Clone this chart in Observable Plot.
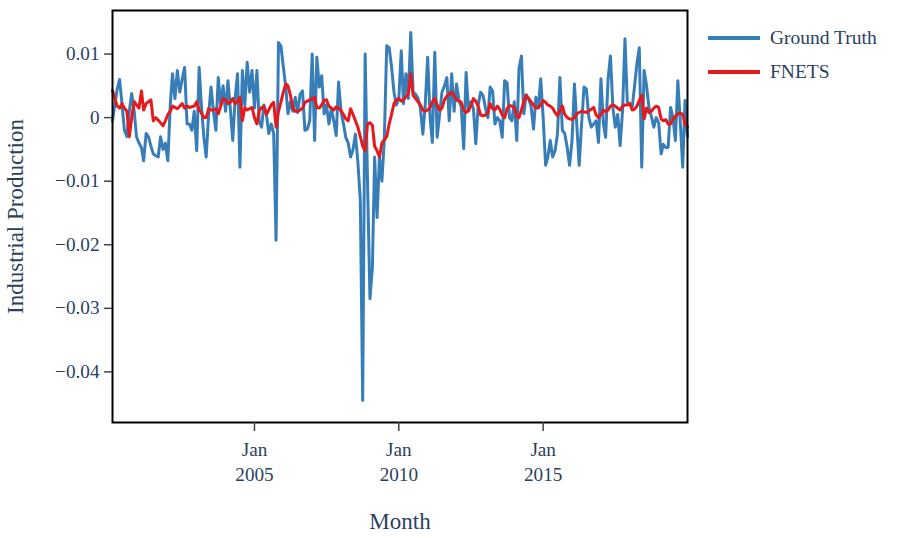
<!DOCTYPE html>
<html>
<head>
<meta charset="utf-8">
<script src="https://cdn.jsdelivr.net/npm/d3@7"></script>
<script src="https://cdn.jsdelivr.net/npm/@observablehq/plot@0.6"></script>
<style>
  html, body { margin: 0; padding: 0; background: #fff; }
  #wrap { position: relative; width: 897px; height: 538px; font-family: "Liberation Serif", "DejaVu Serif", serif; }
  .legend { position: absolute; left: 708px; color: #2a3f5f; font-size: 19.5px; display: flex; align-items: center; }
  .legend .sw { width: 52px; height: 3.5px; margin-right: 10px; }
</style>
</head>
<body>
<div id="wrap"></div>
<script>
// Monthly index: Feb 2000 .. Jan 2020 (240 months)
const startMonth = new Date(Date.UTC(2000, 1, 1));
const endMonth = new Date(Date.UTC(2020, 1, 1));
const months = d3.utcMonth.range(startMonth, endMonth);

const seriesNames = ["Ground Truth", "FNETS"];
const seriesColors = ["#377eb8", "#e41a1c"];

const groundTruth = [
  -0.0005, 0.002, 0.0045, 0.006, 0.002, -0.002, -0.003, 0.001, 0.0038, 0.001,
  -0.003, -0.004, -0.0047, -0.0068, -0.0025, -0.003, -0.0045, -0.0057, -0.006, -0.0062,
  -0.003, -0.005, -0.004, -0.0068, 0.002, 0.0069, 0.003, 0.0074, 0.004, 0.006,
  0.0079, -0.001, -0.001, -0.002, 0.001, -0.0052, 0.0079, 0.002, -0.003, -0.0062,
  0.0005, 0.0048, 0.001, -0.002, 0.0063, 0.002, 0.005, 0.001, 0.0058, 0.0015,
  -0.0036, 0.003, 0.0069, -0.0078, 0.0074, 0.002, 0.0087, 0.004, 0.0074, 0.0015,
  0.0074, -0.0005, -0.0015, 0.002, 0.0005, -0.0025, -0.001, -0.0025, -0.0193, 0.0118,
  0.0113, 0.008, 0.0048, 0.0006, 0.0025, 0.001, 0.0032, 0.0008, 0.0037, 0.0042,
  -0.002, -0.0018, -0.0005, 0.010, -0.0036, 0.0095, 0.0048, 0.0066, 0.0006, 0.002,
  -0.001, 0.0015, -0.0005, -0.0028, 0.0056, 0.001, -0.001, -0.0031, -0.004, -0.0062,
  -0.005, -0.0026, -0.007, -0.013, -0.0445, 0.010, -0.010, -0.0285, -0.0235, -0.0062,
  -0.0157, -0.0062, -0.010, -0.0036, 0.0113, 0.011, 0.008, 0.004, 0.002, 0.003,
  0.0105, 0.0022, 0.0069, 0.003, 0.0134, 0.004, 0.0037, 0.003, 0.0015, -0.0026,
  0.002, 0.0095, 0.0, -0.0039, 0.0103, -0.0031, 0.0005, 0.004, 0.005, 0.0063,
  -0.0005, 0.0069, 0.001, 0.0053, 0.0027, 0.0017, -0.0049, 0.0071, 0.001, 0.0025,
  0.0015, -0.0041, 0.002, 0.004, 0.0035, 0.0015, 0.0, 0.0048, 0.0042, -0.001,
  0.0, -0.0005, -0.0031, 0.0058, 0.0055, 0.0, -0.0005, 0.0025, -0.0036, 0.0077,
  0.0097, 0.0006, 0.0036, 0.003, 0.0018, -0.0018, 0.0032, 0.0015, 0.0061, 0.0,
  -0.0075, -0.0062, -0.0036, -0.0062, -0.0052, -0.0026, 0.0063, -0.002, -0.0025, -0.0047,
  -0.0075, -0.0036, 0.0053, -0.001, -0.0075, -0.001, 0.0048, 0.0045, 0.0, -0.0015,
  -0.001, -0.0005, -0.0039, 0.0061, -0.001, -0.0031, 0.006, 0.0097, 0.0016, -0.0015,
  0.0005, -0.0044, 0.001, 0.0124, 0.0024, 0.0022, 0.0017, 0.0048, 0.0085, 0.011,
  -0.0078, 0.0074, 0.005, 0.0016, 0.0002, -0.0015, 0.0, -0.0008, -0.0057, -0.0042,
  -0.0047, -0.0047, 0.0016, 0.0, -0.0036, 0.0058, -0.0005, -0.0078, 0.0027, -0.003
];

const fnets = [
  0.0043, 0.003, 0.0018, 0.0015, 0.0022, 0.0015, 0.001, -0.003, 0.0, 0.0025,
  0.002, 0.0015, 0.0042, 0.0012, 0.0022, 0.0025, 0.0028, -0.0005, 0.0, -0.0004,
  -0.0008, -0.0013, -0.0005, 0.0005, 0.001, 0.0018, 0.0016, 0.0014, 0.0018, 0.0022,
  0.0015, 0.0018, 0.0016, 0.0017, 0.0018, 0.0025, 0.0012, 0.0008, 0.0, 0.0,
  0.0014, 0.0012, 0.0012, 0.0014, 0.0006, 0.0018, 0.003, 0.0028, 0.0022, 0.0024,
  0.003, 0.0022, 0.0025, 0.0032, -0.0005, 0.0016, 0.0012, 0.0014, 0.0016, 0.0,
  -0.001, 0.001, 0.0016, 0.0017, 0.0005, 0.0012, 0.002, 0.0024, -0.0015, 0.001,
  0.0024, 0.004, 0.0053, 0.005, 0.0035, 0.0015, 0.001, 0.001, 0.0012, 0.0015,
  0.0024, 0.0026, 0.0028, 0.003, 0.0032, 0.0016, 0.0015, 0.002, 0.0027, 0.0028,
  0.0018, 0.0015, 0.0012, 0.0017, 0.0015, 0.0011, 0.0005, -0.0002, -0.0005, 0.0014,
  0.0005, -0.0005, -0.0015, -0.003, -0.0045, -0.0052, -0.001, -0.0008, -0.0012, -0.0045,
  -0.0052, -0.0062, -0.004, -0.0035, -0.003, -0.001, 0.0005, 0.0022, 0.0028, 0.003,
  0.0026, 0.0028, 0.0033, 0.0038, 0.0069, 0.0035, 0.003, 0.0025, 0.002, 0.0012,
  0.001, 0.0012, 0.0016, 0.0025, 0.003, 0.002, 0.0012, 0.0015, 0.0028, 0.0034,
  0.0037, 0.004, 0.0035, 0.0028, 0.0026, 0.0024, 0.0012, 0.0008, 0.0012, 0.0018,
  0.003, 0.0026, 0.0018, 0.0004, 0.0003, 0.0004, 0.0008, 0.0022, 0.0014, 0.0012,
  0.0018, 0.0013, 0.0004, 0.0, 0.0014, 0.0019, 0.0018, 0.0016, 0.0002, 0.0,
  0.0012, 0.0025, 0.0035, 0.003, 0.0025, 0.002, 0.0015, 0.0016, 0.002, 0.0027,
  0.0024, 0.002, 0.0018, 0.0015, 0.0008, 0.0003, 0.001, 0.0018, 0.0005, 0.0,
  -0.0002, -0.0003, 0.0, 0.0006, 0.0008, 0.001, 0.0009, 0.0008, 0.0011, 0.0013,
  0.0016, 0.0004, 0.0, 0.0005, 0.0012, 0.0009, 0.0012, 0.0018, 0.002, 0.0018,
  0.0015, 0.0012, 0.0018, 0.002, 0.002, 0.0022, 0.0012, 0.0013, 0.0018, 0.0027,
  0.0035, -0.0002, 0.0015, 0.0008, 0.001, 0.0015, 0.0018, 0.0016, -0.0002, -0.0005,
  -0.0003, -0.001, -0.001, -0.0002, 0.0002, 0.0006, 0.0007, 0.0005, -0.001, -0.0015
];

const yTicks = [-0.04, -0.03, -0.02, -0.01, 0, 0.01];
const xTickYears = [2005, 2010, 2015];
const xLabel = "Month";
const yLabel = "Industrial Production";

const rows = [];
months.forEach((m, i) => {
  rows.push({date: m, value: groundTruth[i], series: seriesNames[0]});
});
months.forEach((m, i) => {
  rows.push({date: m, value: fnets[i], series: seriesNames[1]});
});

const textColor = "#2a3f5f";
const font = "Liberation Serif, DejaVu Serif, serif";

const chart = Plot.plot({
  width: 897,
  height: 538,
  marginLeft: 112,
  marginRight: 210,
  marginTop: 10,
  marginBottom: 116,
  style: {fontFamily: font, background: "#fff", overflow: "visible"},
  x: {type: "utc", domain: [months[0], months[months.length - 1]]},
  y: {domain: [-0.04796, 0.01685]},
  color: {domain: seriesNames, range: seriesColors},
  marks: [
    Plot.line(rows, {
      x: "date", y: "value", z: "series", stroke: "series",
      strokeWidth: 3, strokeLinejoin: "round", strokeLinecap: "round"
    }),
    Plot.frame({stroke: "#000", strokeWidth: 2}),
    Plot.axisY({
      ticks: yTicks,
      tickFormat: d3.format(""),
      tickSize: 8,
      tickPadding: 5,
      fontSize: 19.2,
      fill: textColor,
      stroke: "#444",
      strokeWidth: 1.5,
      label: null
    }),
    Plot.axisX({
      ticks: xTickYears.map(y => new Date(Date.UTC(y, 0, 1))),
      tickFormat: d => `Jan\n${d.getUTCFullYear()}`,
      tickSize: 9,
      tickPadding: 7,
      fontSize: 19.2,
      lineHeight: 1.3,
      fill: textColor,
      stroke: "#444",
      strokeWidth: 1.5,
      label: null
    }),
    Plot.text([xLabel], {
      frameAnchor: "bottom", dy: 90, lineAnchor: "top",
      fontSize: 23, fill: textColor, text: d => d
    }),
    Plot.text([yLabel], {
      frameAnchor: "left", dx: -97, rotate: -90, textAnchor: "middle",
      fontSize: 23, fill: textColor, text: d => d
    })
  ]
});

const wrap = document.getElementById("wrap");
wrap.appendChild(chart);

const legendY = [38, 72];
seriesNames.forEach((name, i) => {
  const item = document.createElement("div");
  item.className = "legend";
  item.style.top = (legendY[i] - 12) + "px";
  item.style.height = "24px";
  const sw = document.createElement("div");
  sw.className = "sw";
  sw.style.background = seriesColors[i];
  const label = document.createElement("span");
  label.textContent = name;
  item.appendChild(sw);
  item.appendChild(label);
  wrap.appendChild(item);
});
</script>
</body>
</html>
